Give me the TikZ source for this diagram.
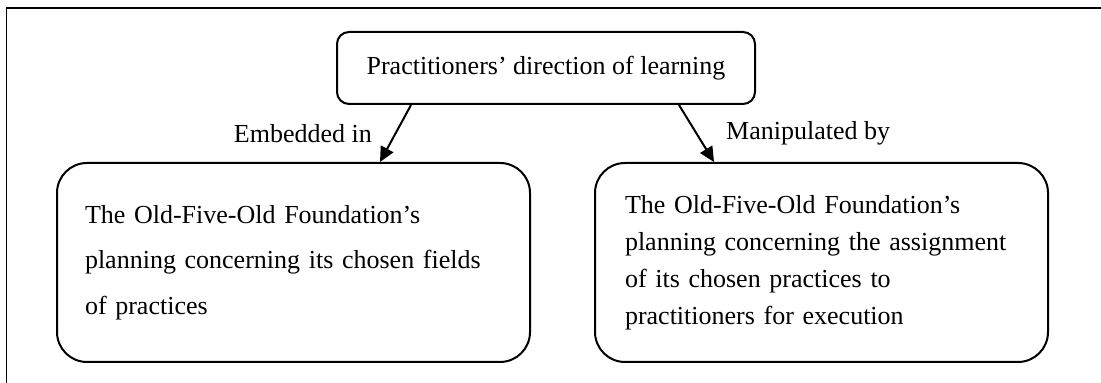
\documentclass[tikz,border=0pt]{standalone}
\usepackage{fontspec}
\setmainfont{Liberation Serif}
\usetikzlibrary{arrows.meta,positioning}

\tikzset{
  roundbox/.style={draw,line width=1pt,rounded corners=15pt,align=left,inner xsep=14pt},
  flow/.style={-{Triangle[length=7.5pt,width=7pt]},line width=1pt},
  lbl/.style={font=\fontsize{13}{16}\selectfont}
}

\begin{document}
\begin{tikzpicture}[x=0.5pt,y=0.5pt]
    \useasboundingbox (0,0) rectangle (1101,383);
    \draw[line width=0.8pt] (6.5,0) -- (6.5,375) -- (1101,375);
    \node[draw,line width=1pt,rounded corners=6pt,minimum width=209pt,minimum height=36pt,
          font=\fontsize{13}{16}\selectfont] (dir) at (546,315) {Practitioners' direction of learning};
    \node[roundbox,minimum width=236.5pt,minimum height=99.5pt,text width=208.5pt,
          font=\fontsize{13}{22.75}\selectfont] (fields) at (293.5,120.5)
          {The Old-Five-Old Foundation's\\planning concerning its chosen fields\\of practices};
    \node[roundbox,inner xsep=15pt,minimum width=226.5pt,minimum height=99.5pt,text width=196.5pt,
          font=\fontsize{13}{18.5}\selectfont] (assign) at (821.5,120.5)
          {The Old-Five-Old Foundation's\\planning concerning the assignment\\of its chosen practices to\\practitioners for execution};
    \draw[flow] ([xshift=37.5pt]dir.south west) -- node[lbl,left=8pt] {Embedded in} ([xshift=162pt]fields.north west);
    \draw[flow] ([xshift=171.5pt]dir.south west) -- node[lbl,right=11pt] {Manipulated by} ([xshift=60pt]assign.north west);
\end{tikzpicture}
\end{document}
